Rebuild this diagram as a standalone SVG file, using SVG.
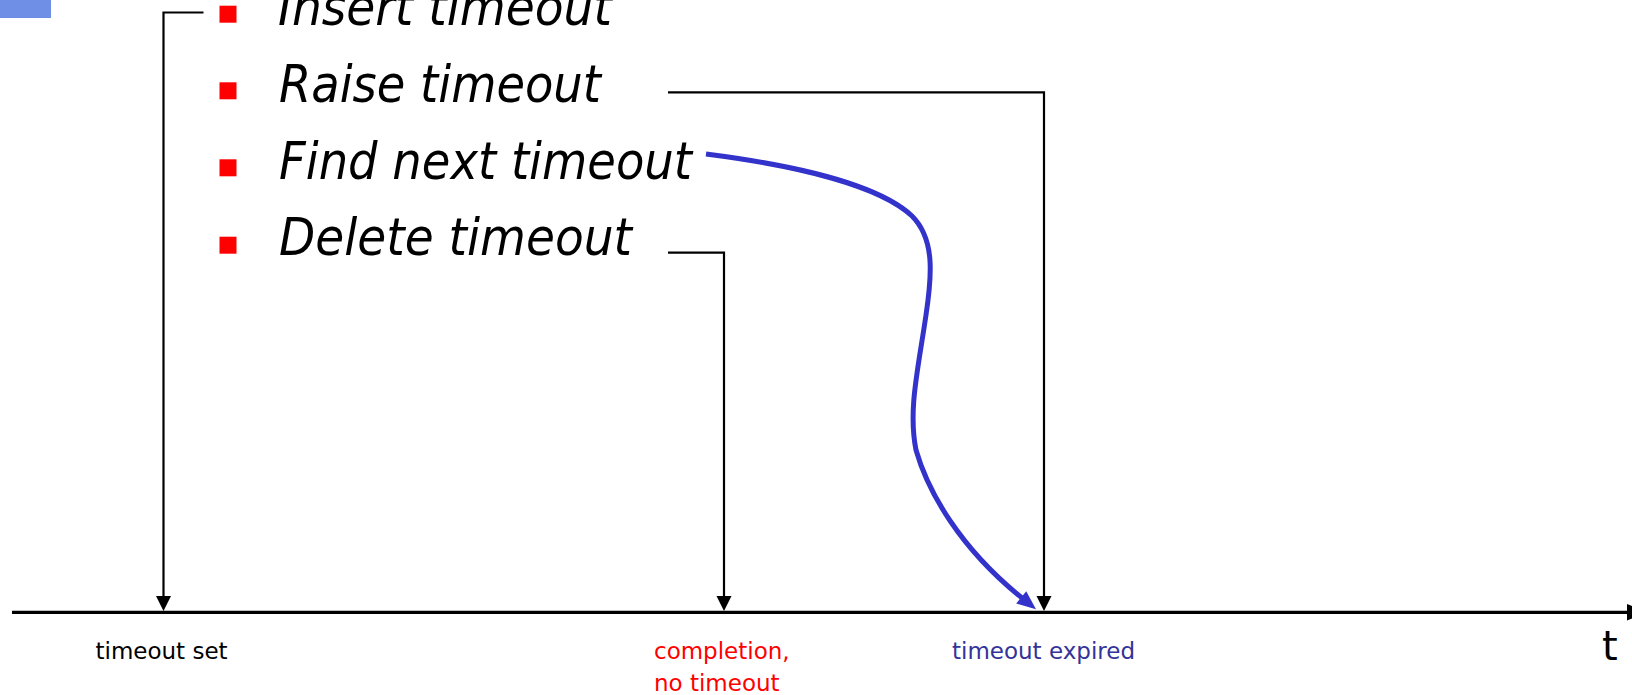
<svg xmlns="http://www.w3.org/2000/svg" width="1632" height="695" viewBox="0 0 1632 695">
<style>
.item{font-family:"DejaVu Sans","Liberation Sans",sans-serif;font-style:italic;font-size:52px;fill:#000}
.lbl{font-family:"DejaVu Sans","Liberation Sans",sans-serif;font-size:23px}
.bullet{fill:#FF0000}
.conn{fill:none;stroke:#000;stroke-width:2.2}
.axis{fill:none;stroke:#000;stroke-width:3.2}
.blue{fill:none;stroke:#3333CC;stroke-width:5}
</style>
<defs>
<marker id="ah" markerUnits="userSpaceOnUse" markerWidth="16" markerHeight="16" refX="0" refY="7.5" orient="auto" overflow="visible">
<path d="M0,0 L15,7.5 L0,15 z" fill="#000"/>
</marker>
<marker id="ahb" markerUnits="userSpaceOnUse" markerWidth="20" markerHeight="18" refX="1" refY="8" orient="auto" overflow="visible">
<path d="M0,0 L19,8 L0,16 z" fill="#3333CC"/>
</marker>
</defs>
<rect id="corner" x="0" y="0" width="51" height="18" fill="#6F8FE6"/>
<g id="item-insert"><rect class="bullet" x="219.5" y="5.7" width="17" height="17"/><text class="item" x="278" y="25" textLength="334" lengthAdjust="spacingAndGlyphs">Insert timeout</text></g>
<g id="item-raise"><rect class="bullet" x="219.5" y="82.3" width="17" height="17"/><text class="item" x="279" y="101.7" textLength="322" lengthAdjust="spacingAndGlyphs">Raise timeout</text></g>
<g id="item-find"><rect class="bullet" x="219.5" y="159.3" width="17" height="17"/><text class="item" x="279" y="179" textLength="413" lengthAdjust="spacingAndGlyphs">Find next timeout</text></g>
<g id="item-delete"><rect class="bullet" x="219.5" y="236.7" width="17" height="17"/><text class="item" x="279" y="255" textLength="353" lengthAdjust="spacingAndGlyphs">Delete timeout</text></g>
<g id="label-set"><text class="lbl" x="95.5" y="659" fill="#000">timeout set</text></g>
<g id="label-completion"><text class="lbl" x="654" y="659" fill="#FF0000">completion,</text><text class="lbl" x="654" y="690.5" fill="#FF0000">no timeout</text></g>
<g id="label-expired"><text class="lbl" x="952" y="659" fill="#333399">timeout expired</text></g>
<g id="label-t"><text x="1602" y="660" font-family="DejaVu Sans, Liberation Sans, sans-serif" font-size="40" fill="#000">t</text></g>
<g id="connectors">
<line class="axis" x1="12" y1="612.3" x2="1630" y2="612.3"/>
<polygon points="1627,604 1647,612.3 1627,620.6" fill="#000"/>
<path class="conn" d="M203.5,12.5 H163.5 V596" marker-end="url(#ah)"/>
<path class="conn" d="M668,92.3 H1044 V596" marker-end="url(#ah)"/>
<path class="conn" d="M668,252.7 H724 V596" marker-end="url(#ah)"/>
<path class="blue" d="M706,154 C800,166 880,186 912,216 C935,239 932,275 926,315 C918,370 908,410 916,450 C928,492 960,548 1022,598" marker-end="url(#ahb)"/>
</g>
</svg>
